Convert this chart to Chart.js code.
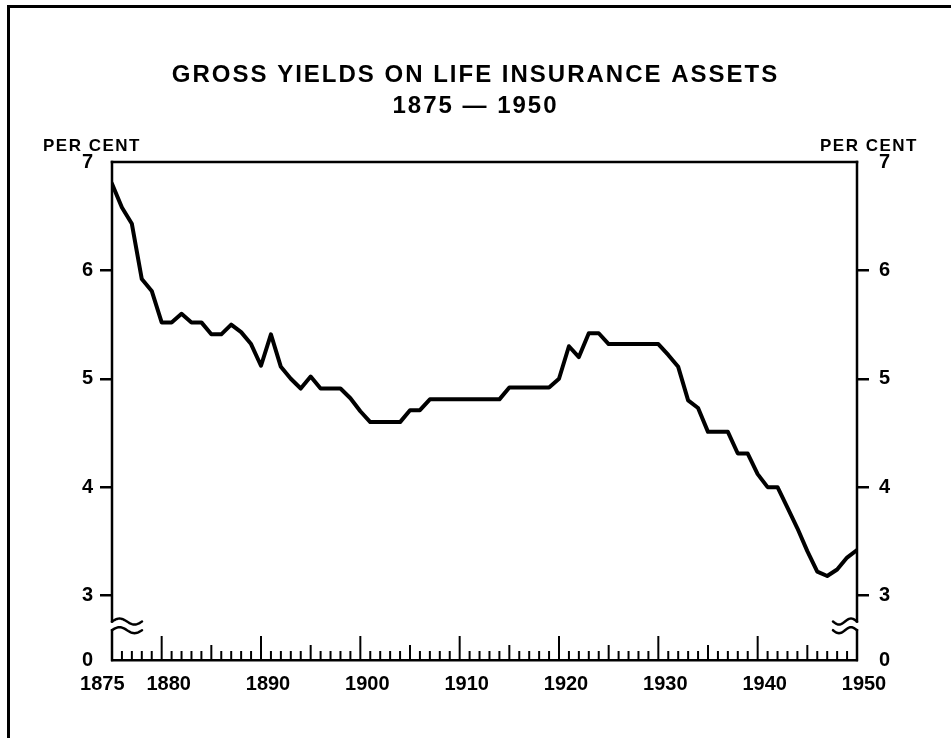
<!DOCTYPE html>
<html>
<head>
<meta charset="utf-8">
<script src="https://cdn.jsdelivr.net/npm/chart.js@4.4.1/dist/chart.umd.min.js"></script>
<style>
  html, body { margin: 0; padding: 0; background: #fff; }
  #wrap { position: relative; width: 951px; height: 738px; overflow: hidden; }
  #frame { position: absolute; left: 7px; top: 5px; right: -10px; bottom: -10px;
           border-top: 3px solid #000; border-left: 3px solid #000; pointer-events: none; }
  canvas { position: absolute; left: 0; top: 0; }
</style>
</head>
<body>
<div id="wrap">
  <canvas id="chart" width="951" height="738"></canvas>
  <div id="frame"></div>
</div>
<script>
const TITLE = ['GROSS YIELDS ON LIFE INSURANCE ASSETS', '1875 \u2014 1950'];
const UNIT_LABEL = 'PER CENT';

const YEARS = [
  1875, 1876, 1877, 1878, 1879, 1880, 1881, 1882, 1883, 1884,
  1885, 1886, 1887, 1888, 1889, 1890, 1891, 1892, 1893, 1894,
  1895, 1896, 1897, 1898, 1899, 1900, 1901, 1902, 1903, 1904,
  1905, 1906, 1907, 1908, 1909, 1910, 1911, 1912, 1913, 1914,
  1915, 1916, 1917, 1918, 1919, 1920, 1921, 1922, 1923, 1924,
  1925, 1926, 1927, 1928, 1929, 1930, 1931, 1932, 1933, 1934,
  1935, 1936, 1937, 1938, 1939, 1940, 1941, 1942, 1943, 1944,
  1945, 1946, 1947, 1948, 1949, 1950
];
// gross yield, per cent
const YIELDS = [
  6.80, 6.58, 6.43, 5.92, 5.81, 5.52, 5.52, 5.60, 5.52, 5.52,
  5.41, 5.41, 5.50, 5.43, 5.32, 5.12, 5.41, 5.11, 5.00, 4.91,
  5.02, 4.91, 4.91, 4.91, 4.82, 4.70, 4.60, 4.60, 4.60, 4.60,
  4.71, 4.71, 4.81, 4.81, 4.81, 4.81, 4.81, 4.81, 4.81, 4.81,
  4.92, 4.92, 4.92, 4.92, 4.92, 5.00, 5.30, 5.20, 5.42, 5.42,
  5.32, 5.32, 5.32, 5.32, 5.32, 5.32, 5.22, 5.11, 4.80, 4.73,
  4.51, 4.51, 4.51, 4.31, 4.31, 4.12, 4.00, 4.00, 3.81, 3.62,
  3.41, 3.22, 3.18, 3.24, 3.35, 3.42
];

const X_LABELS = [1875, 1880, 1890, 1900, 1910, 1920, 1930, 1940, 1950];

// the value axis is broken: its foot stands for 0, the scale proper runs 3..7
const AXIS_FOOT = 2.405;
const Y_TICKS = [AXIS_FOOT, 3, 4, 5, 6, 7];
const Y_MAX = 7;
const BREAK_HI = 2.76;   // where the upper wavy mark sits
const BREAK_LO = 2.68;   // where the lower wavy mark sits

Chart.defaults.font.family = '"Liberation Sans", Arial, sans-serif';
Chart.defaults.font.weight = 'bold';
Chart.defaults.color = '#000';

const yTickLabel = v => (v === AXIS_FOOT ? '0' : String(v));
const yTickColor = c => (c.tick && (c.tick.value === AXIS_FOOT || c.tick.value === Y_MAX) ? 'rgba(0,0,0,0)' : '#000');

// Chart.js title with wider letter spacing, like the hand lettering
const spacedTitle = {
  id: 'spacedTitle',
  beforeDraw(chart, args, opts) {
    const block = chart.titleBlock;
    if (!block || block._spaced) return;
    const draw = block.draw.bind(block);
    block.draw = area => {
      chart.ctx.save();
      chart.ctx.letterSpacing = opts.spacing;
      draw(area);
      chart.ctx.restore();
    };
    block._spaced = true;
  }
};

function wave(ctx, x0, y0, dir, len) {
  ctx.beginPath();
  for (let i = 0; i <= 24; i++) {
    const t = i / 24;
    const px = x0 + dir * t * len;
    const py = y0 - 3 * Math.sin(t * Math.PI * 2);
    i ? ctx.lineTo(px, py) : ctx.moveTo(px, py);
  }
  ctx.stroke();
}

function seg(ctx, x1, y1, x2, y2) {
  ctx.beginPath();
  ctx.moveTo(x1, y1);
  ctx.lineTo(x2, y2);
  ctx.stroke();
}

// frame with broken side axes, yearly ticks and the PER CENT captions
const axisFrame = {
  id: 'axisFrame',
  afterDraw(chart) {
    const { ctx, chartArea: a, scales: { x, y } } = chart;
    const hi = y.getPixelForValue(BREAK_HI);
    const lo = y.getPixelForValue(BREAK_LO);
    ctx.save();
    ctx.strokeStyle = '#000';
    ctx.lineWidth = 2.5;
    ctx.lineCap = 'square';
    seg(ctx, a.left, a.top, a.right, a.top);
    [[a.left, 1, 30], [a.right, -1, 24]].forEach(([sx, dir, len]) => {
      seg(ctx, sx, a.top, sx, hi);
      seg(ctx, sx, lo, sx, a.bottom);
      ctx.lineCap = 'round';
      wave(ctx, sx, hi, dir, len);
      wave(ctx, sx, lo, dir, len);
      ctx.lineCap = 'square';
    });

    ctx.lineWidth = 2;
    ctx.lineCap = 'butt';
    for (let yr = x.min + 1; yr < x.max; yr++) {
      const px = x.getPixelForValue(yr);
      const len = yr % 10 === 0 ? 24 : (yr % 5 === 0 ? 15 : 9);
      seg(ctx, px, a.bottom, px, a.bottom - len);
    }

    ctx.fillStyle = '#000';
    ctx.font = 'bold 17px "Liberation Sans", Arial, sans-serif';
    ctx.letterSpacing = '1.5px';
    ctx.textAlign = 'center';
    ctx.textBaseline = 'middle';
    ctx.fillText(UNIT_LABEL, a.left - 20, a.top - 16);
    ctx.fillText(UNIT_LABEL, a.right + 12, a.top - 16);
    ctx.restore();
  }
};

const sideAxis = (position, width, pad) => ({
  type: 'linear',
  position,
  min: AXIS_FOOT,
  max: Y_MAX,
  afterBuildTicks: s => { s.ticks = Y_TICKS.map(v => ({ value: v })); },
  afterFit: s => { s.width = width; },
  border: { display: false },
  grid: { drawOnChartArea: false, drawTicks: true, tickLength: 12, lineWidth: 2.5, color: yTickColor },
  ticks: { font: { size: 20 }, padding: pad, callback: yTickLabel }
});

new Chart(document.getElementById('chart'), {
  type: 'line',
  data: {
    datasets: [{
      label: 'Gross yield',
      data: YEARS.map((yr, i) => ({ x: yr, y: YIELDS[i] })),
      borderColor: '#000',
      borderWidth: 4,
      borderJoinStyle: 'round',
      borderCapStyle: 'round',
      pointRadius: 0,
      tension: 0,
      yAxisID: 'y'
    }]
  },
  options: {
    responsive: false,
    animation: false,
    layout: { padding: 0 },
    plugins: {
      legend: { display: false },
      tooltip: { enabled: false },
      title: {
        display: true,
        text: TITLE,
        font: { size: 24, weight: 'bold', lineHeight: 1.3 },
        padding: { top: 60, bottom: 39.6 }
      },
      spacedTitle: { spacing: '2px' }
    },
    scales: {
      x: {
        type: 'linear',
        min: YEARS[0],
        max: YEARS[YEARS.length - 1],
        afterBuildTicks: s => { s.ticks = X_LABELS.map(v => ({ value: v })); },
        afterFit: s => { s.height = 78; },
        grid: { display: false },
        border: { display: true, color: '#000', width: 2.5 },
        ticks: {
          font: { size: 20 },
          padding: 4,
          labelOffset: 7,
          autoSkip: false,
          maxRotation: 0,
          // first label sits left of its tick, clear of the next one
          callback: v => (v === X_LABELS[0] ? v + '\u2007\u2007\u2007' : String(v))
        }
      },
      y: sideAxis('left', 112, 7),
      y2: sideAxis('right', 94, 10)
    }
  },
  plugins: [spacedTitle, axisFrame]
});
</script>
</body>
</html>
